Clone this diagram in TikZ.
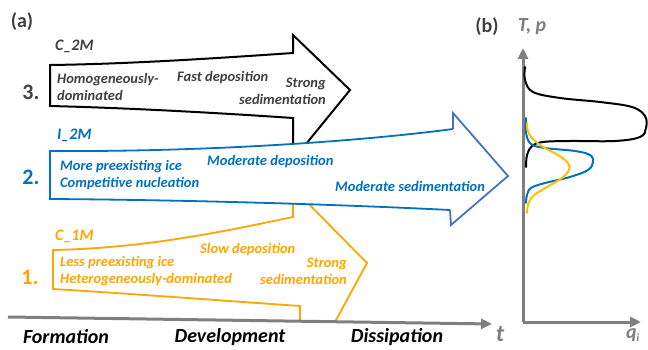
\documentclass[tikz,border=0pt]{standalone}
\usepackage{fontspec}
\setmainfont{Carlito}
\usetikzlibrary{arrows.meta}
\definecolor{darkgray}{HTML}{404040}
\definecolor{axisgray}{HTML}{7F7F7F}
\definecolor{iceblue}{HTML}{0070C0}
\definecolor{headblue}{HTML}{4472C4}
\definecolor{iceorange}{HTML}{FFA500}
\definecolor{iceyellow}{HTML}{FFC000}
\begin{document}
\begin{tikzpicture}
  [x=1pt,y=-1pt,
  every node/.style={inner sep=0pt},
  lbl/.style={font=\bfseries\itshape\fontsize{14.5}{17}\selectfont},
  tag/.style={font=\bfseries\itshape\fontsize{16}{18}\selectfont},
  num/.style={font=\bfseries\fontsize{22}{24}\selectfont},
  panel/.style={font=\bfseries\fontsize{20}{22}\selectfont,darkgray},
  phase/.style={font=\bfseries\itshape\fontsize{20}{22}\selectfont},
  axis/.style={line width=3pt,draw=axisgray,-{Triangle[length=11pt,width=10pt]}},
  profile/.style={line width=2pt,line cap=round}]
  \useasboundingbox (0,0) rectangle (648,350);

  % scheme 1 (C_1M)
  \filldraw [fill=white,draw=iceorange,line width=1.8pt,line join=miter]
  (53,250) .. controls (150,248) and (230,230) .. (293,217) -- (293,188)
  -- (367,263) -- (335,322) -- (300,321) -- (300,306)
  .. controls (200,299) and (120,293) .. (53,289) -- cycle;
  % scheme 3 (C_2M)
  \filldraw [fill=white,draw=black,line width=2pt,line join=miter]
  (50,65) .. controls (130,64) and (220,58) .. (293,53) -- (293,35)
  -- (350,90) -- (293,160) -- (293,118)
  .. controls (220,113) and (130,108) .. (50,106) -- cycle;
  % scheme 2 (I_2M)
  \fill [white]
  (50,151) .. controls (220,152) and (370,140) .. (453,129) -- (453,113)
  -- (508,176) -- (451,225) -- (450,210)
  .. controls (350,205) and (200,200) .. (50,199) -- cycle;
  \draw [iceblue,line width=1.8pt]
  (453,129) .. controls (370,140) and (220,152) .. (50,151) -- (50,199)
  .. controls (200,200) and (350,205) .. (450,210);
  \draw [headblue,line width=1.8pt,line join=miter]
  (453,129) -- (453,113) -- (508,176) -- (451,225) -- (450,210);

  % time axis
  \coordinate (t0) at (8,317);
  \coordinate (t1) at (492,324);
  \draw [axis] (t0) -- (t1);

  \node [panel] (a) at (22,22) {(a)};

  % labels, scheme 3
  \node [tag,darkgray,anchor=west] (c2m) at (55,46) {C\_2M};
  \node [num,darkgray] (n3) at (31,92) {3.};
  \node [lbl,darkgray,anchor=west,align=left] (homo) at (57,86.5) {Homogeneously-\\dominated};
  \node [lbl,darkgray,anchor=west] (fast) at (177,78) {Fast deposition};
  \node [lbl,darkgray,anchor=east,align=right] (sed3) at (326,91.5) {Strong\\sedimentation};

  % labels, scheme 2
  \node [tag,iceblue,anchor=west] (i2m) at (57,135) {I\_2M};
  \node [num,iceblue] (n2) at (31,177) {2.};
  \node [lbl,iceblue,anchor=west,align=left] (more) at (60,175.5) {More preexisting ice\\Competitive nucleation};
  \node [lbl,iceblue,anchor=west] (moddep) at (207,162) {Moderate deposition};
  \node [lbl,iceblue,anchor=west] (modsed) at (335,186) {Moderate sedimentation};

  % labels, scheme 1
  \node [tag,iceorange,anchor=west] (c1m) at (55,236) {C\_1M};
  \node [num,iceorange] (n1) at (30,277) {1.};
  \node [lbl,iceorange,anchor=west,align=left] (less) at (60,271.5) {Less preexisting ice\\Heterogeneously-dominated};
  \node [lbl,iceorange,anchor=west] (slow) at (200,250) {Slow deposition};
  \node [lbl,iceorange,anchor=east,align=right] (sed1) at (347,271.5) {Strong\\sedimentation};

  % life cycle stages
  \node [phase] (form) at (66,337) {Formation};
  \node [phase] (dev) at (230,337) {Development};
  \node [phase] (diss) at (397,337) {Dissipation};
  \node [phase,axisgray,font=\bfseries\itshape\fontsize{24}{26}\selectfont] (t) at (500,334) {t};

  % panel (b)
  \node [panel] (b) at (487,27) {(b)};
  \node [phase,axisgray] (tp) at (532,27) {T, p};
  \coordinate (o) at (523,322);
  \coordinate (ytop) at (523,48);
  \coordinate (xend) at (641,322);
  \draw [axis] (o) -- (ytop);
  \draw [axis] (o) -- (xend);
  \node [phase,axisgray] (qi) at (633,335) {q\textsubscript{\fontsize{11}{12}\selectfont i}};

  \draw [profile,black] plot [smooth,tension=0.6] coordinates
  {(525,67) (525,80) (533,92) (560,98) (600,102) (632,107) (645,116) (646,128)
   (640,137) (615,141) (570,141) (543,142) (532,146) (527,155) (526,167)};
  \draw [profile,iceblue] plot [smooth,tension=0.6] coordinates
  {(526,118) (526,133) (531,144) (545,148) (575,151) (590,155) (593,162) (588,170)
   (570,177) (545,183) (531,188) (527,195) (526,203)};
  \draw [profile,iceyellow] plot [smooth,tension=0.6] coordinates
  {(527,123) (529,134) (540,145) (558,155) (568,163) (569,170) (562,178) (547,187)
   (533,196) (528,205) (527,213)};
\end{tikzpicture}
\end{document}
